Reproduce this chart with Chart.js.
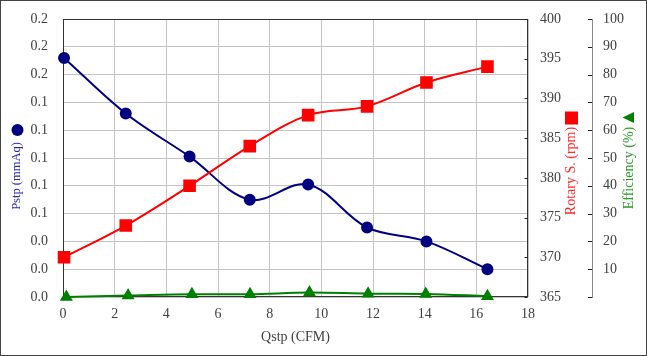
<!DOCTYPE html>
<html><head><meta charset="utf-8">
<script src="https://cdn.jsdelivr.net/npm/chart.js@4/dist/chart.umd.min.js"></script>
<style>html,body{margin:0;padding:0;background:#fff;overflow:hidden}#wrap{width:647px;height:356px;position:relative}</style>
</head><body><div id="wrap"><canvas id="c" width="647" height="356"></canvas></div>
<script>
// ---- data ----
const qstp = [0.04, 2.43, 4.90, 7.23, 9.49, 11.77, 14.07, 16.43];
const pstp = [0.172, 0.132, 0.101, 0.070, 0.081, 0.050, 0.040, 0.020];
const rotarySpeed = [370, 374, 379, 384, 387.9, 389, 392, 394];
const effQstp = [0.13, 2.52, 4.99, 7.24, 9.54, 11.81, 14.04, 16.43];
const efficiency = [0, 0.5, 1.0, 1.0, 1.6, 1.2, 1.1, 0.3];
// axis ranges / tick steps
const xRange = [0, 18, 2];
const pstpRange = [0, 0.2, 0.02];
const rpmRange = [365, 400, 5];
const effRange = [0, 100, 10];
// titles
const xTitle = 'Qstp (CFM)';
const pstpTitle = 'Pstp (mmAq)';
const rpmTitle = 'Rotary S. (rpm)';
const effTitle = 'Efficiency (%)';

const FONT = "'Liberation Serif','Times New Roman',serif";
const TICK_COLOR = '#404040';
const GRID = '#c4c4c4';

const pts = (xs, ys) => xs.map((x, i) => ({x, y: ys[i]}));
const fixV = w => s => { s.width = w; s.paddingTop = 8; s.paddingBottom = 8; };

const decor = {
  id: 'decor',
  beforeDatasetsDraw(chart) {
    const ctx = chart.ctx, a = chart.chartArea;
    ctx.save();
    ctx.strokeStyle = '#333';
    ctx.lineWidth = 1;
    const L = Math.round(a.left) + 0.5, R = Math.round(a.right) - 0.5;
    const T = Math.round(a.top) + 0.5, B = Math.round(a.bottom) - 0.5;
    ctx.strokeRect(L, T, R - L, B - T);
    // inward ticks on rpm axis
    const y1 = chart.scales.y1;
    ctx.beginPath();
    y1.ticks.forEach(t => {
      const y = Math.round(y1.getPixelForValue(t.value)) + 0.5;
      ctx.moveTo(R - 3, y); ctx.lineTo(R, y);
    });
    // outward-left ticks on efficiency axis
    const y2 = chart.scales.y2;
    const xl = Math.round(y2.left);
    y2.ticks.forEach(t => {
      const y = Math.round(y2.getPixelForValue(t.value)) + 0.5;
      ctx.moveTo(xl - 4, y); ctx.lineTo(xl, y);
    });
    ctx.strokeStyle = '#222';
    ctx.stroke();
    ctx.restore();
  },
  afterDraw(chart) {
    const ctx = chart.ctx;
    ctx.save();
    // outer border
    ctx.strokeStyle = '#444';
    ctx.lineWidth = 1;
    ctx.strokeRect(0.5, 0.5, chart.width - 1, chart.height - 1);
    const rot = (text, x, y, color, size) => {
      ctx.save();
      ctx.translate(x, y);
      ctx.rotate(-Math.PI / 2);
      ctx.font = size + 'px ' + FONT;
      ctx.fillStyle = color;
      ctx.textAlign = 'center';
      ctx.textBaseline = 'middle';
      ctx.fillText(text, 0, 0);
      ctx.restore();
    };
    rot(pstpTitle, 17, 176, '#2a2aa8', 12.5);
    rot(rpmTitle, 571, 171, '#ff2a2a', 14);
    rot(effTitle, 629.5, 168, '#2e9a2e', 14);
    // legend markers
    ctx.fillStyle = '#000080';
    ctx.beginPath(); ctx.arc(17.5, 130, 6, 0, Math.PI * 2); ctx.fill();
    ctx.fillStyle = '#ff0000';
    ctx.fillRect(565, 111.5, 13, 13);
    ctx.fillStyle = '#008000';
    ctx.beginPath();
    ctx.moveTo(622.5, 117.5); ctx.lineTo(634, 112); ctx.lineTo(634, 123); ctx.closePath(); ctx.fill();
    ctx.restore();
  }
};

new Chart(document.getElementById('c'), {
  type: 'line',
  data: {
    datasets: [
      {label: 'Efficiency', data: pts(effQstp, efficiency), yAxisID: 'y2',
       borderColor: '#008000', backgroundColor: '#008000', borderWidth: 2,
       pointStyle: 'triangle', pointRadius: 5.5, tension: 0.35, clip: false},
      {label: 'Rotary S.', data: pts(qstp, rotarySpeed), yAxisID: 'y1',
       borderColor: '#ff0000', backgroundColor: '#ff0000', borderWidth: 2,
       pointStyle: 'rect', pointRadius: 7.5, tension: 0.35, clip: false},
      {label: 'Pstp', data: pts(qstp, pstp), yAxisID: 'y',
       borderColor: '#000080', backgroundColor: '#000080', borderWidth: 2,
       pointStyle: 'circle', pointRadius: 5, tension: 0.35, clip: false}
    ]
  },
  options: {
    responsive: false, animation: false, devicePixelRatio: 1,
    layout: {padding: {top: 19, left: 0, right: 0, bottom: 0}},
    plugins: {legend: {display: false}, tooltip: {enabled: false}},
    elements: {point: {borderWidth: 0, hoverRadius: 5}},
    scales: {
      x: {
        type: 'linear', min: xRange[0], max: xRange[1],
        ticks: {stepSize: xRange[2], color: TICK_COLOR, font: {family: FONT, size: 14}, padding: 9, maxRotation: 0},
        grid: {color: GRID, drawTicks: false},
        border: {display: false},
        title: {display: true, text: xTitle, color: TICK_COLOR, font: {family: FONT, size: 14}, padding: {top: 0, bottom: 10}},
        afterFit(s) { s.height = 59; }
      },
      y: {
        position: 'left', min: pstpRange[0], max: pstpRange[1],
        ticks: {stepSize: pstpRange[2], color: TICK_COLOR, font: {family: FONT, size: 14}, padding: 15,
                callback: v => Number(v).toFixed(1)},
        grid: {color: GRID, drawTicks: false},
        border: {display: false},
        afterFit: fixV(63)
      },
      y1: {
        position: 'right', min: rpmRange[0], max: rpmRange[1],
        ticks: {stepSize: rpmRange[2], color: TICK_COLOR, font: {family: FONT, size: 14}, padding: 12},
        grid: {drawOnChartArea: false, drawTicks: false},
        border: {display: false},
        afterFit: fixV(64)
      },
      y2: {
        position: 'right', min: effRange[0], max: effRange[1],
        ticks: {stepSize: effRange[2], color: TICK_COLOR, font: {family: FONT, size: 14}, padding: 11,
                callback: v => v === 0 ? '' : String(v)},
        grid: {drawOnChartArea: false, drawTicks: false},
        border: {display: true, color: '#8a8a8a', width: 1},
        afterFit: fixV(55)
      }
    }
  },
  plugins: [decor]
});
</script></body></html>
